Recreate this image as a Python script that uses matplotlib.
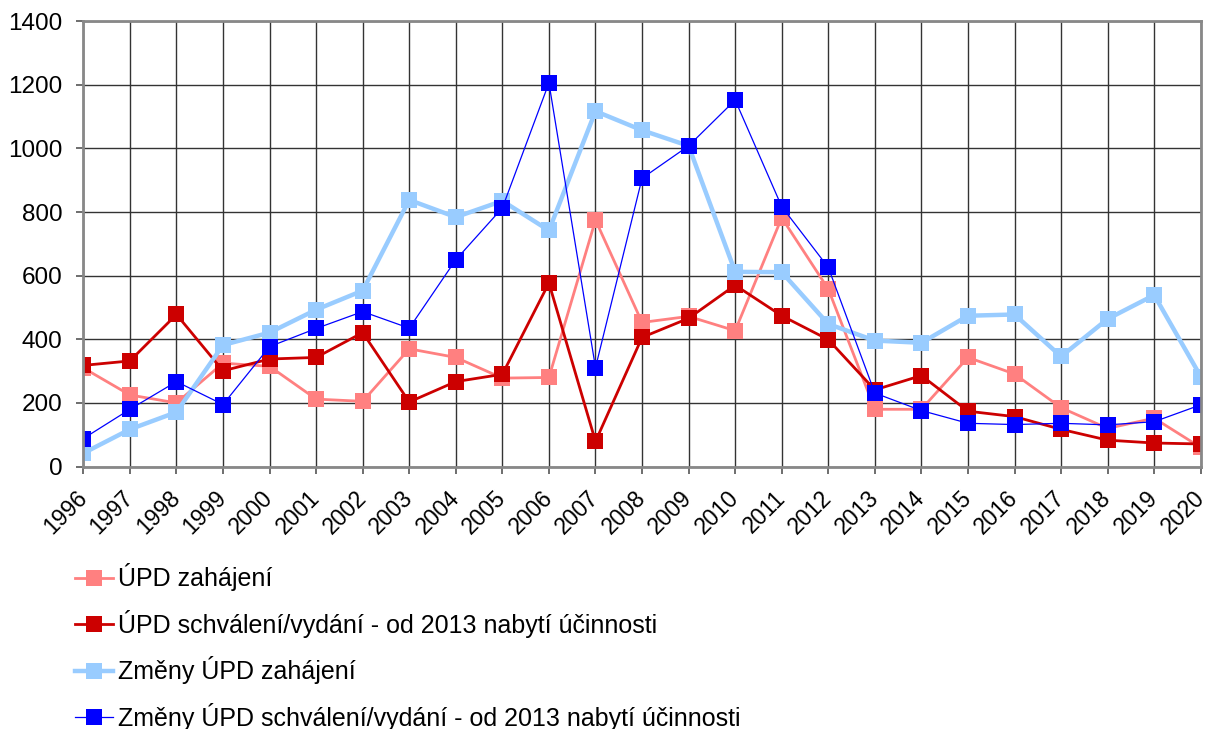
import matplotlib
matplotlib.use('Agg')
import matplotlib.pyplot as plt
import numpy as np

years = list(range(1996, 2021))

# values
upd_zahajeni = [310, 225, 200, 325, 315, 212, 205, 370, 343, 278, 280, 775, 453, 472,
                427, 782, 558, 180, 180, 343, 291, 185, 120, 152, 60]
upd_schvaleni = [318, 332, 478, 301, 338, 343, 421, 203, 267, 290, 577, 79, 406, 466,
                 570, 474, 399, 241, 286, 174, 157, 117, 83, 74, 71]
zmeny_zahajeni = [42, 117, 171, 382, 421, 493, 553, 838, 784, 835, 742, 1117, 1057, 1008,
                  612, 611, 448, 396, 389, 474, 478, 346, 464, 539, 283]
zmeny_schvaleni = [88, 180, 267, 195, 377, 434, 487, 435, 650, 813, 1206, 311, 906, 1008,
                   1152, 817, 626, 231, 176, 136, 132, 136, 131, 141, 194]

labels = ['ÚPD zahájení',
          'ÚPD schválení/vydání - od 2013 nabytí účinnosti',
          'Změny ÚPD zahájení',
          'Změny ÚPD schválení/vydání - od 2013 nabytí účinnosti']
colors = ['#FF8080', '#CC0000', '#99CCFF', '#0000FF']
widths = [2.0, 2.0, 3.2, 0.9]

plt.rcParams['font.family'] = ['Liberation Sans', 'DejaVu Sans']

fig = plt.figure(figsize=(12.08, 7.29), dpi=100)
ax = fig.add_axes([0.069, 0.360, 0.925, 0.611])

series = [upd_zahajeni, upd_schvaleni, zmeny_zahajeni, zmeny_schvaleni]
for vals, lab, col, lw in zip(series, labels, colors, widths):
    ax.plot(years, vals, color=col, lw=lw, marker='s', markersize=11,
            markeredgewidth=0, label=lab)

ax.set_xlim(1996, 2020)
ax.set_ylim(0, 1400)
ax.set_xticks(years)
ax.set_yticks(np.arange(0, 1401, 200))
ax.grid(True, color='#333333', lw=1)
ax.set_axisbelow(True)
for s in ax.spines.values():
    s.set_color('#888888')
    s.set_linewidth(2)

ax.tick_params(axis='both', length=5, width=1.2, color='#555555', direction='out')
ax.tick_params(axis='x', labelsize=16.5, pad=15)
ax.tick_params(axis='y', labelsize=17.5, pad=10)
plt.setp(ax.get_xticklabels(), rotation=45, ha='right', va='center',
         rotation_mode='anchor')

fig.legend(loc='upper left', bbox_to_anchor=(0.054, 0.241), frameon=False,
           fontsize=18, handlelength=1.5, handletextpad=0.2,
           labelspacing=0.74, borderaxespad=0)

fig.savefig('out.png', dpi=100)
